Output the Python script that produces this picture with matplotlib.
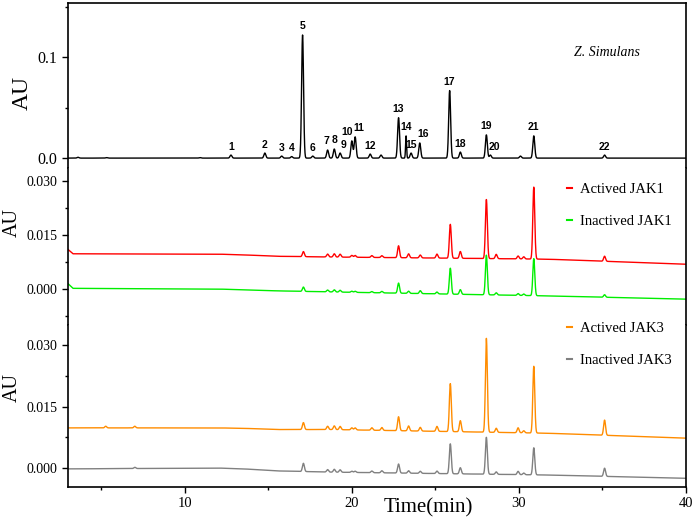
import numpy as np
import matplotlib
matplotlib.use('Agg')
from matplotlib import pyplot as plt
from matplotlib.ticker import MultipleLocator

# Z. Simulans extract: numbered peaks (retention time in min, height in AU)
peak_labels = [str(i) for i in range(1, 23)]
top_times = [12.76, 14.79, 15.8, 16.4, 17.05, 17.66, 18.55, 18.95, 19.3, 20.0, 20.2,
             21.1, 22.8, 23.25, 23.55, 24.07, 25.86, 26.5, 28.06, 28.3, 30.9, 35.14]
top_heights = [0.003, 0.005, 0.002, 0.0015, 0.122, 0.002, 0.008, 0.009, 0.005, 0.017, 0.021,
               0.004, 0.040, 0.022, 0.005, 0.015, 0.067, 0.006, 0.023, 0.003, 0.022, 0.003]
# small unlabeled peaks
extra_times = [3.6, 5.3, 10.9, 21.75, 30.1]
extra_heights = [0.0008, 0.0005, 0.0005, 0.003, 0.002]

# JAK1 / JAK3 eluates share the same set of peaks
jak_times = [5.26, 7.0, 17.1, 18.55, 18.95, 19.3, 20.0, 20.2, 21.2, 21.8, 22.8, 23.4,
             24.1, 25.1, 25.9, 26.5, 28.06, 28.65, 29.96, 30.3, 30.9, 35.14]
act_jak1 = [0, 0, 0.0014, 0.0008, 0.0009, 0.0008, 0.0005, 0.0005, 0.0005, 0.0005, 0.0033, 0.0011,
            0.0008, 0.0011, 0.0094, 0.0019, 0.0164, 0.0012, 0.0008, 0.0006, 0.020, 0.0014]
inact_jak1 = [0, 0, 0.0012, 0.0005, 0.0006, 0.0005, 0.0003, 0.0003, 0.0003, 0.0004, 0.0028, 0.0006,
              0.0008, 0.0005, 0.0072, 0.0013, 0.011, 0.0006, 0.0005, 0.0004, 0.0103, 0.0007]
act_jak3 = [0.0004, 0.0004, 0.0017, 0.0008, 0.0009, 0.0008, 0.0005, 0.0005, 0.0006, 0.0007, 0.0034, 0.0012,
            0.0009, 0.0012, 0.0117, 0.0027, 0.0229, 0.001, 0.0012, 0.0005, 0.0163, 0.0037]
inact_jak3 = [0, 0.0003, 0.002, 0.0006, 0.0007, 0.0006, 0.0003, 0.0003, 0.0004, 0.0005, 0.0022, 0.0006,
              0.0005, 0.0006, 0.0073, 0.0015, 0.009, 0.0006, 0.0008, 0.0004, 0.0066, 0.002]

# baseline drift (time, AU)
base_t = [3.0, 3.3, 12.0, 13.5, 15.5, 18.8, 31.7, 40.0]
base_act_jak1 = [0.0110, 0.0098, 0.0097, 0.0095, 0.0091, 0.0089, 0.0083, 0.0069]
base_inact_jak1 = [0.0015, 0.0002, 0.0, -0.0002, -0.0005, -0.0008, -0.0019, -0.0028]
base_act_jak3 = [0.0098, 0.0098, 0.0098, 0.0097, 0.0094, 0.0094, 0.0085, 0.0073]
base_inact_jak3 = [-0.0002, -0.0002, 0.0, -0.0002, -0.0007, -0.0010, -0.0017, -0.0025]

t = np.linspace(3, 40, 5000)


def trace(times, heights, width=0.058):
    y = np.zeros_like(t)
    for rt, h in zip(times, heights):
        w = 0.03 if rt == 23.25 else width
        y += h * np.exp(-0.5 * ((t - rt) / w) ** 2)
    return y


serif = 'Liberation Serif'
plt.close('all')
fig, (ax1, ax2, ax3) = plt.subplots(3, 1, figsize=(6.99, 5.23), dpi=100, sharex=True,
                                    gridspec_kw={'height_ratios': [165, 157, 162], 'hspace': 0})
fig.subplots_adjust(left=0.0973, right=0.981, top=0.994, bottom=0.0688)

# top panel
ytop = trace(top_times, top_heights) + trace(extra_times, extra_heights)
ax1.plot(t, ytop, color='black', lw=1.0)
label_dx = {'7': -0.06, '9': 0.18, '10': -0.3, '11': 0.24, '16': 0.18, '20': 0.24}
for lab, rt, h in zip(peak_labels, top_times, top_heights):
    ax1.text(rt + label_dx.get(lab, 0), h + 0.0035, lab, ha='center', va='bottom',
             fontsize=7.5, fontweight='bold', family='Liberation Sans')
ax1.text(0.872, 0.70, 'Z. Simulans', transform=ax1.transAxes, ha='center', va='center',
         fontsize=10, style='italic', family=serif)
ax1.set_ylim(-0.0099, 0.1535)
ax1.yaxis.set_major_locator(MultipleLocator(0.1))
ax1.yaxis.set_minor_locator(MultipleLocator(0.05))
ax1.yaxis.set_major_formatter(matplotlib.ticker.FormatStrFormatter('%.1f'))

# middle panel
ax2.plot(t, np.interp(t, base_t, base_act_jak1) + trace(jak_times, act_jak1),
         color='#ff0000', lw=1.0, label='Actived JAK1')
ax2.plot(t, np.interp(t, base_t, base_inact_jak1) + trace(jak_times, inact_jak1),
         color='#00ee00', lw=1.0, label='Inactived JAK1')
ax2.set_ylim(-0.0100, 0.0336)

# bottom panel
ax3.plot(t, np.interp(t, base_t, base_act_jak3) + trace(jak_times, act_jak3),
         color='#ff8c00', lw=1.0, label='Actived JAK3')
ax3.plot(t, np.interp(t, base_t, base_inact_jak3) + trace(jak_times, inact_jak3),
         color='#808080', lw=1.0, label='Inactived JAK3')
ax3.set_ylim(-0.00463, 0.0349)

for ax in (ax2, ax3):
    ax.yaxis.set_major_locator(MultipleLocator(0.015))
    ax.yaxis.set_minor_locator(MultipleLocator(0.0075))
    ax.yaxis.set_major_formatter(matplotlib.ticker.FormatStrFormatter('%.3f'))
    leg = ax.legend(loc='upper left', frameon=False, handlelength=0.35, handletextpad=0.6,
                    labelspacing=1.3, borderaxespad=0, borderpad=0,
                    prop={'family': serif, 'size': 10.5})
    for line in leg.get_lines():
        line.set_linewidth(1.5)
ax2.get_legend().set_bbox_to_anchor((0.807, 0.905), transform=ax2.transAxes)
ax3.get_legend().set_bbox_to_anchor((0.807, 1.02), transform=ax3.transAxes)

ax1.spines['bottom'].set_visible(False)
ax2.spines['top'].set_visible(False)
ax2.spines['bottom'].set_visible(False)
ax3.spines['top'].set_visible(False)
for ax in (ax1, ax2, ax3):
    for s in ax.spines.values():
        s.set_linewidth(1.2)
    ax.tick_params(axis='y', which='major', direction='out', length=4, width=1.0,
                   labelsize=10, right=False)
    ax.tick_params(axis='y', which='minor', direction='out', length=2.5, width=1.0, right=False)
    ax.tick_params(axis='x', which='both', bottom=False, top=False)
    for lab in ax.get_yticklabels():
        lab.set_family(serif)
ax1.tick_params(axis='y', which='major', labelsize=11.5)

ax3.set_xlim(3, 40)
ax3.xaxis.set_major_locator(MultipleLocator(10))
ax3.xaxis.set_minor_locator(MultipleLocator(5))
ax3.tick_params(axis='x', which='major', bottom=True, direction='out', length=4, width=1.0, labelsize=10.5)
ax3.tick_params(axis='x', which='minor', bottom=True, direction='out', length=2.5, width=1.0)
for lab in ax3.get_xticklabels():
    lab.set_family(serif)
ax3.set_xlabel('Time(min)', family=serif, fontsize=15)
ax3.xaxis.set_label_coords(0.583, -0.07)

fig.text(0.032, 0.822, 'AU', rotation=90, ha='center', va='center', family=serif, fontsize=17)
fig.text(0.017, 0.574, 'AU', rotation=90, ha='center', va='center', family=serif, fontsize=14.5)
fig.text(0.017, 0.26, 'AU', rotation=90, ha='center', va='center', family=serif, fontsize=14.5)

fig.savefig('out.png', dpi=100)
